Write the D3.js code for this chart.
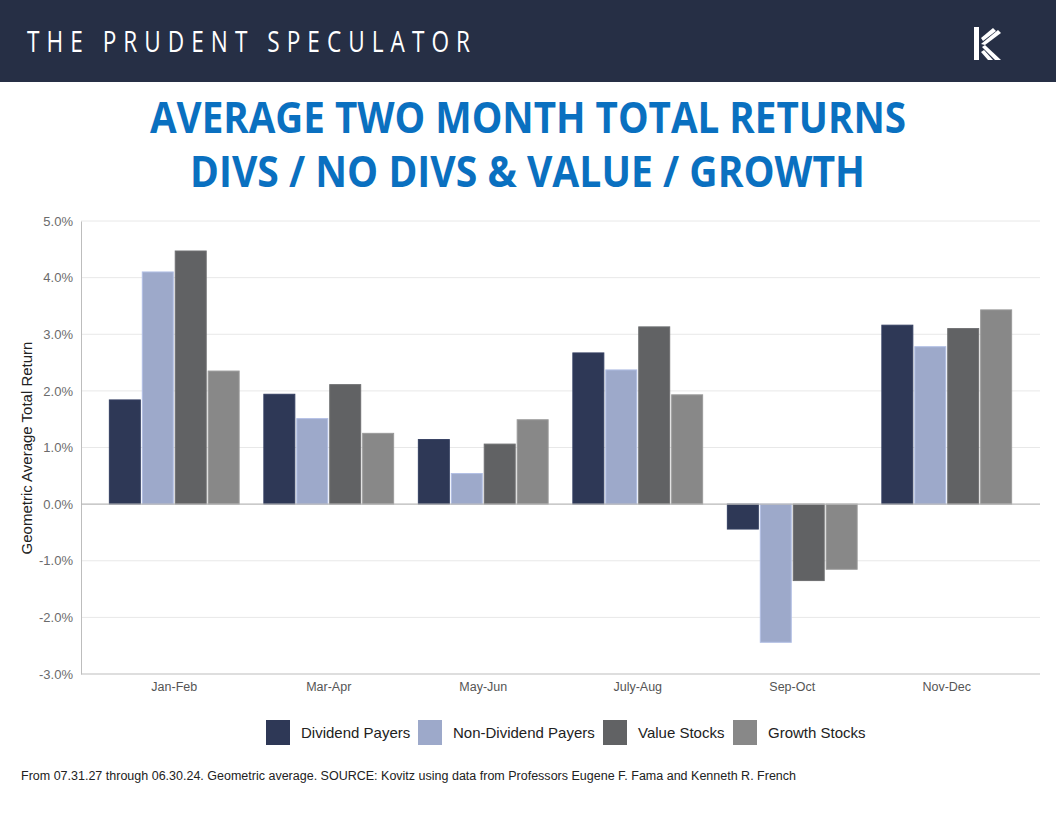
<!DOCTYPE html>
<html>
<head>
<meta charset="utf-8">
<script src="https://cdn.jsdelivr.net/npm/d3@7"></script>
<style>
html,body{margin:0;padding:0;background:#fff;}
svg{display:block;}
</style>
</head>
<body>
<script>
const categories = ["Jan-Feb","Mar-Apr","May-Jun","July-Aug","Sep-Oct","Nov-Dec"];
const seriesNames = ["Dividend Payers","Non-Dividend Payers","Value Stocks","Growth Stocks"];
const dividendPayers    = [1.84, 1.94, 1.14, 2.67, -0.44, 3.16];
const nonDividendPayers = [4.10, 1.51, 0.54, 2.37, -2.44, 2.78];
const valueStocks       = [4.47, 2.11, 1.06, 3.13, -1.35, 3.10];
const growthStocks      = [2.35, 1.25, 1.49, 1.93, -1.15, 3.43];
const seriesColors = ["#2E3856","#9DA9CA","#616264","#888888"];
const yTicks = [-3,-2,-1,0,1,2,3,4,5];

const W = 1056, H = 816;
const svg = d3.select("body").append("svg").attr("width", W).attr("height", H);

// header
svg.append("rect").attr("x",0).attr("y",0).attr("width",W).attr("height",82).attr("fill","#262F45");
svg.append("text").attr("x",27).attr("y",52)
  .attr("font-family","'Open Sans', sans-serif").attr("font-weight",400)
  .attr("font-size",29).attr("fill","#fff")
  .attr("transform","translate(27,52) scale(0.78,1) translate(-27,-52)")
  .attr("textLength",443/0.78).attr("lengthAdjust","spacing")
  .text("THE PRUDENT SPECULATOR");
// logo
const logo = svg.append("g").attr("transform","translate(974,27)").attr("fill","#fff");
logo.append("path").attr("d","M0,0 H5 V33 H0 Z");
logo.append("path").attr("d","M7,11 L19,1 L22,4 L9,14 Z");
logo.append("path").attr("d","M7,17 L24,3 L27,6 L11,18 Z");
logo.append("path").attr("d","M8,20 L11,18 L27,33 H21 Z");
logo.append("path").attr("d","M7,25 L10,23 L19,33 H14 Z");

// title
const title = svg.append("g").attr("font-family","'Open Sans', sans-serif").attr("font-weight",700).attr("fill","#0A70C0");
title.append("text").attr("x",150).attr("y",133).attr("font-size",43)
  .attr("textLength",756).attr("lengthAdjust","spacingAndGlyphs")
  .text("AVERAGE TWO MONTH TOTAL RETURNS");
title.append("text").attr("x",190).attr("y",187).attr("font-size",43)
  .attr("textLength",675).attr("lengthAdjust","spacingAndGlyphs")
  .text("DIVS / NO DIVS & VALUE / GROWTH");

// scales
const plotLeft = 81, plotRight = 1040;
const y = d3.scaleLinear().domain([-3,5]).range([674,221]);
const x0 = d3.scaleBand().domain(categories).range([97,1024]).paddingInner(0.16).paddingOuter(0.08);
const x1 = d3.scaleBand().domain(seriesNames).range([0,x0.bandwidth()]).paddingInner(0.06);

// gridlines
svg.append("g").selectAll("line").data(yTicks.filter(t=>t!==0 && t!==-3)).join("line")
  .attr("x1",plotLeft).attr("x2",plotRight)
  .attr("y1",d=>y(d)).attr("y2",d=>y(d))
  .attr("stroke","#e8e8e8").attr("stroke-width",1);

// y axis
const fmt = d => d3.format(".1f")(d).replace("\u2212","-") + "%";
const yAxis = svg.append("g").attr("transform",`translate(${plotLeft},0)`)
  .call(d3.axisLeft(y).tickValues(yTicks).tickFormat(fmt).tickSize(0).tickPadding(8));
yAxis.select(".domain").attr("stroke","#bdbdbd");
yAxis.selectAll("text").attr("font-family","Arial, 'Liberation Sans', sans-serif").attr("font-size",13).attr("fill","#6b6b6b");

// bars
const data = [dividendPayers, nonDividendPayers, valueStocks, growthStocks];
const groups = svg.append("g").selectAll("g").data(categories).join("g")
  .attr("transform",d=>`translate(${x0(d)},0)`);
groups.selectAll("rect").data((c,i)=>seriesNames.map((s,j)=>({s, v:data[j][i], c:seriesColors[j]}))).join("rect")
  .attr("x",d=>x1(d.s)).attr("width",x1.bandwidth())
  .attr("y",d=>y(Math.max(0,d.v))).attr("height",d=>Math.abs(y(d.v)-y(0)))
  .attr("fill",d=>d.c)
  .attr("stroke",d=>d3.color(d.c).brighter(0.35)).attr("stroke-width",1);

// zero line
svg.append("line").attr("x1",plotLeft).attr("x2",plotRight).attr("y1",y(0)).attr("y2",y(0))
  .attr("stroke","#b8b8b8").attr("stroke-width",1.2);

// x axis (bottom)
const xAxis = svg.append("g").attr("transform",`translate(0,${y(-3)})`)
  .call(d3.axisBottom(x0).tickSize(0).tickPadding(8));
xAxis.select(".domain").remove();
svg.append("line").attr("x1",plotLeft).attr("x2",plotRight).attr("y1",y(-3)).attr("y2",y(-3))
  .attr("stroke","#bdbdbd").attr("stroke-width",1);
xAxis.selectAll("text").attr("font-family","Arial, 'Liberation Sans', sans-serif").attr("font-size",12.5).attr("fill","#555");

// y axis title
svg.append("text").attr("transform","translate(32,448) rotate(-90)").attr("text-anchor","middle")
  .attr("font-family","Arial, 'Liberation Sans', sans-serif").attr("font-size",15).attr("fill","#222")
  .text("Geometric Average Total Return");

// legend
const legendX = [266, 418, 603, 733];
const leg = svg.append("g").selectAll("g").data(seriesNames).join("g")
  .attr("transform",(d,i)=>`translate(${legendX[i]},720)`);
leg.append("rect").attr("width",24).attr("height",25).attr("fill",(d,i)=>seriesColors[i]);
leg.append("text").attr("x",35).attr("y",18).attr("font-family","Arial, 'Liberation Sans', sans-serif")
  .attr("font-size",15).attr("fill","#222").text(d=>d);

// footer
svg.append("text").attr("x",21).attr("y",780).attr("font-family","Arial, 'Liberation Sans', sans-serif")
  .attr("font-size",12).attr("fill","#222").attr("textLength",775).attr("lengthAdjust","spacingAndGlyphs")
  .text("From 07.31.27 through 06.30.24. Geometric average. SOURCE: Kovitz using data from Professors Eugene F. Fama and Kenneth R. French");
</script>
</body>
</html>
